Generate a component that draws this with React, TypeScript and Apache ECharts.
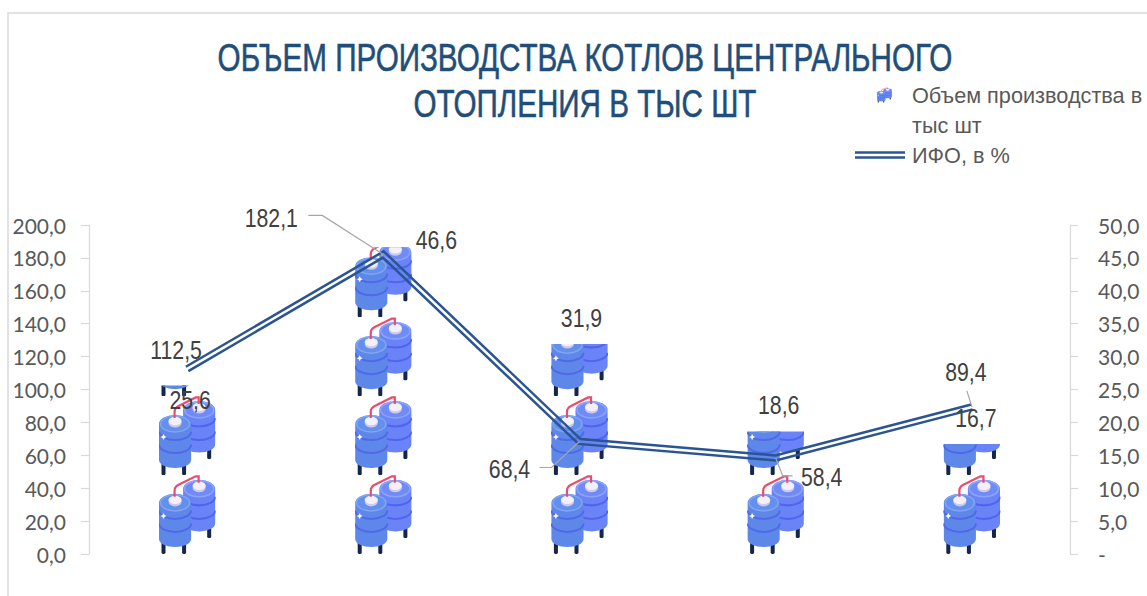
import React, { useEffect, useRef } from "react";
import * as echarts from "echarts";

const categories = ["2018", "2019", "2020", "2021", "2022"];
const outputValues = [25.6, 46.6, 31.9, 18.6, 16.7];
const ifoValues = [112.5, 182.1, 68.4, 58.4, 89.4];
const leftTicks = { min: 0, max: 200, interval: 20 };
const rightTicks = { min: 0, max: 50, interval: 5 };
const titleLines = ["ОБЪЕМ ПРОИЗВОДСТВА КОТЛОВ ЦЕНТРАЛЬНОГО", "ОТОПЛЕНИЯ В ТЫС ШТ"];
const outputName = "Объем производства в тыс шт";
const ifoName = "ИФО, в %";
// One tank stands for 12 units of the right axis; four of them fit the picture's tallest column.
const tankUnits = 12;
const tankStack = 4;

// Layout-only offsets (px) for the hand-placed data labels and leader lines.
const outputLabelOffsets = [[3, 15], [53, -7], [2, -26], [3, -26], [4, -26]];
const ifoLabelOffsets = [[-11, -19], [-112, -36], [-70, 28], [46, 19], [-6, -35]];
const ifoLeaders: number[][][] = [
  [],
  [[-61, -39], [-75, -39]],
  [[-28, 26], [-40, 26]],
  [[7, 18], [17, 18]],
  [[-5, -16]],
];

const GREY = "#595959";
const DARK = "#404040";
const LINE = "#2b5592";
const AXIS = "#d9d9d9";
const SANS = "'Liberation Sans', Arial, sans-serif";

const tankArt = `
<g fill="#15264a"><rect x="48.5" y="48" width="4" height="15" rx="1.5"/><rect x="3" y="64" width="4" height="15" rx="1.5"/><rect x="23.5" y="64" width="4" height="15" rx="1.5"/></g>
<path d="M24.5 14A16 9 0 0 1 56.5 14V48.5A16 8 0 0 1 24.5 48.5Z" fill="#6a84f8"/>
<path d="M24.5 22A16 8.5 0 0 0 56.5 22M24.5 35.5A16 8.5 0 0 0 56.5 35.5" fill="none" stroke="#5264ee" stroke-width="2"/>
<ellipse cx="40.5" cy="14" rx="14.5" ry="8" fill="#6f8bf8" stroke="#8ea4fa" stroke-width="1.5"/>
<path d="M34 11V13A6.5 4.5 0 0 0 47 13V11Z" fill="#cfc8ee"/>
<ellipse cx="40.5" cy="11" rx="6.5" ry="4.2" fill="#f4f0fa"/>
<path d="M0.5 28A16 9 0 0 1 32.5 28V64A16 8 0 0 1 0.5 64Z" fill="#5e87ea"/>
<path d="M0.5 35.5A16 8.5 0 0 0 32.5 35.5M0.5 48.5A16 8.5 0 0 0 32.5 48.5" fill="none" stroke="#5069e8" stroke-width="2"/>
<ellipse cx="16.5" cy="28" rx="14.5" ry="8" fill="#6290ec" stroke="#82a4f2" stroke-width="1.5"/>
<path d="M10 25V27A6.5 4.5 0 0 0 23 27V25Z" fill="#cfc8ee"/>
<ellipse cx="16.5" cy="25" rx="6.5" ry="4.2" fill="#f4f0fa"/>
<path d="M16 22V16Q16 12 20 10L37 1.5H40V8" fill="none" stroke="#ec4a6e" stroke-width="2.2"/>
<path d="M5 38L6 40L8 41L6 42L5 44L4 42L2 41L4 40Z" fill="#fff"/>`;

const tankSvg = `<svg xmlns="http://www.w3.org/2000/svg" width="120" height="120" viewBox="0 0 57 79" preserveAspectRatio="none">${tankArt}</svg>`;
const legendTankSvg = `<svg xmlns="http://www.w3.org/2000/svg" width="50" height="60" viewBox="0 0 50 60"><g transform="translate(22 7.5) scale(0.2632 0.19)">${tankArt}</g></svg>`;
const toImage = (svg: string) => "image://data:image/svg+xml;utf8," + encodeURIComponent(svg);

const comma = (v: number) => v.toFixed(1).replace(".", ",");

function offsetPolyline(pts: number[][], d: number) {
  const normals = pts.slice(1).map((p, i) => {
    const dx = p[0] - pts[i][0];
    const dy = p[1] - pts[i][1];
    const len = Math.hypot(dx, dy);
    return [-dy / len, dx / len];
  });
  return pts.map((p, i) => {
    const a = normals[Math.max(0, i - 1)];
    const b = normals[Math.min(normals.length - 1, i)];
    const mx = a[0] + b[0];
    const my = a[1] + b[1];
    const ml = Math.hypot(mx, my);
    const ux = mx / ml;
    const uy = my / ml;
    const k = d / (ux * a[0] + uy * a[1]);
    return [p[0] + ux * k, p[1] + uy * k];
  });
}

const squeezedLabel = (value: number, x: number, y: number) => ({
  type: "text",
  silent: true,
  x,
  y,
  scaleX: 0.85,
  style: {
    text: comma(value),
    align: "center",
    verticalAlign: "middle",
    fill: DARK,
    font: `25px ${SANS}`,
  },
});

function renderIfo(params: any, api: any) {
  const i = params.dataIndex;
  const p = api.coord([i, api.value(1)]);
  const children: any[] = [];
  const leader = ifoLeaders[i];
  if (leader.length) {
    children.push({
      type: "polyline",
      silent: true,
      shape: { points: [p, ...leader.map((o) => [p[0] + o[0], p[1] + o[1]])] },
      style: { fill: "none", stroke: "#a6a6a6", lineWidth: 1.2 },
    });
  }
  if (i === 0) {
    const pts = ifoValues.map((v, k) => api.coord([k, v]));
    [-2.5, 2.5].forEach((d) => {
      children.push({
        type: "polyline",
        silent: true,
        shape: { points: offsetPolyline(pts, d) },
        style: { fill: "none", stroke: LINE, lineWidth: 2.5, lineJoin: "miter" },
      });
    });
  }
  const off = ifoLabelOffsets[i];
  children.push(squeezedLabel(api.value(1), p[0] + off[0], p[1] + off[1]));
  return { type: "group", children };
}

function renderOutputLabel(params: any, api: any) {
  const i = params.dataIndex;
  const p = api.coord([i, api.value(1)]);
  const off = outputLabelOffsets[i];
  return squeezedLabel(api.value(1), p[0] + off[0], p[1] + off[1]);
}

export default function App() {
  const ref = useRef<HTMLDivElement>(null);
  useEffect(() => {
    const chart = echarts.init(ref.current!, undefined, { renderer: "svg" });
    const axisCommon = {
      type: "value" as const,
      splitLine: { show: false },
      axisLine: { show: true, lineStyle: { color: AXIS, width: 1.2 } },
      axisTick: { show: true, length: 8, lineStyle: { color: AXIS, width: 1.2 } },
    };
    const labelFont = { color: GREY, fontFamily: "Lato", fontSize: 21 };
    const titleStyle = {
      align: "center",
      verticalAlign: "middle",
      fill: "#1f4e79",
      stroke: "#1f4e79",
      lineWidth: 0.6,
      font: `38px ${SANS}`,
    };
    chart.setOption({
      animation: false,
      backgroundColor: "#fff",
      graphic: [
        {
          type: "rect",
          silent: true,
          shape: { x: 8, y: 13, width: 1300, height: 800 },
          style: { fill: "none", stroke: AXIS, lineWidth: 1.5 },
        },
        {
          type: "text",
          silent: true,
          x: 585,
          y: 58,
          scaleX: 0.78,
          style: { ...titleStyle, text: titleLines[0] },
        },
        {
          type: "text",
          silent: true,
          x: 585,
          y: 104,
          scaleX: 0.78,
          style: { ...titleStyle, text: titleLines[1] },
        },
      ],
      legend: [
        {
          orient: "vertical",
          left: 855,
          top: 80,
          padding: 0,
          itemGap: 0,
          itemWidth: 50,
          itemHeight: 60,
          selectedMode: false,
          formatter: () => "Объем производства в\nтыс шт",
          textStyle: { color: GREY, fontFamily: SANS, fontSize: 21.7, lineHeight: 30, padding: [0, 0, 0, 2] },
          data: [{ name: outputName, icon: toImage(legendTankSvg) }],
        },
        {
          orient: "vertical",
          left: 855,
          top: 140,
          padding: 0,
          itemGap: 0,
          itemWidth: 50,
          itemHeight: 30,
          selectedMode: false,
          textStyle: { color: GREY, fontFamily: SANS, fontSize: 21.7, lineHeight: 30, padding: [0, 0, 0, 2] },
          data: [{ name: ifoName, icon: "path://M0 0H50V2.5H0ZM0 5H50V7.5H0Z" }],
        },
      ],
      grid: { left: 89, right: 77, top: 225, bottom: 42 },
      xAxis: {
        type: "category",
        data: categories,
        axisLine: { show: false },
        axisTick: { show: false },
        axisLabel: { show: false },
      },
      yAxis: [
        {
          ...axisCommon,
          ...leftTicks,
          position: "left",
          axisLabel: { ...labelFont, margin: 23, formatter: (v: number) => comma(v) },
        },
        {
          ...axisCommon,
          ...rightTicks,
          position: "right",
          axisLabel: {
            ...labelFont,
            margin: 28,
            formatter: (v: number) => (v === 0 ? "-" : comma(v)),
          },
        },
      ],
      series: [
        {
          name: outputName,
          type: "pictorialBar",
          yAxisIndex: 1,
          symbol: toImage(tankSvg),
          symbolSize: [57, 79.2],
          symbolKeepAspect: false,
          symbolRepeat: true,
          symbolClip: true,
          symbolBoundingData: tankUnits * tankStack,
          symbolMargin: 0,
          symbolPosition: "start",
          itemStyle: { color: "#5e87ea" },
          z: 2,
          data: outputValues,
        },
        {
          name: ifoName,
          type: "custom",
          yAxisIndex: 0,
          coordinateSystem: "cartesian2d",
          renderItem: renderIfo,
          clip: false,
          z: 3,
          itemStyle: { color: LINE },
          encode: { x: 0, y: 1 },
          data: ifoValues.map((v, i) => [i, v]),
        },
        {
          name: "outputLabels",
          type: "custom",
          yAxisIndex: 1,
          coordinateSystem: "cartesian2d",
          renderItem: renderOutputLabel,
          clip: false,
          z: 4,
          encode: { x: 0, y: 1 },
          data: outputValues.map((v, i) => [i, v]),
        },
      ],
    });
    return () => chart.dispose();
  }, []);
  return (
    <div
      ref={ref}
      style={{ position: "absolute", left: 0, top: 0, width: 1147, height: 596 }}
    />
  );
}
